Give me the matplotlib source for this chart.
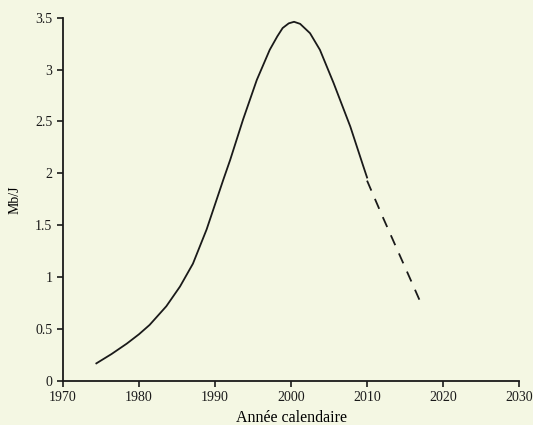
import matplotlib
matplotlib.use("Agg")
import matplotlib.pyplot as plt

# solid part (observed) and dashed part (forecast)
years_obs = [1974.4, 1976.4, 1978.4, 1980, 1981.4, 1983.6, 1985.4, 1987.1, 1988.9,
             1990, 1991.1, 1992, 1993.7, 1995.5, 1997.2, 1998.2, 1998.9, 1999.7,
             2000.4, 2001.2, 2002.5, 2003.8, 2005.6, 2007.8, 2009.5, 2010]
mbj_obs = [0.17, 0.26, 0.36, 0.45, 0.54, 0.72, 0.91, 1.13, 1.46,
           1.70, 1.94, 2.13, 2.52, 2.90, 3.19, 3.32, 3.40, 3.445,
           3.46, 3.44, 3.35, 3.19, 2.87, 2.45, 2.07, 1.96]
years_proj = [2010, 2012, 2014, 2016, 2016.9]
mbj_proj = [1.93, 1.59, 1.26, 0.93, 0.78]

bg = '#f4f7e3'
plt.rcParams['font.family'] = ['Liberation Serif', 'DejaVu Serif']

fig = plt.figure(figsize=(5.33, 4.25), dpi=100, facecolor=bg)
ax = fig.add_axes([0.118, 0.1035, 0.856, 0.855])
ax.set_facecolor(bg)

ax.plot(years_obs, mbj_obs, color='#1a1a1a', lw=1.3, solid_joinstyle='round')
ax.plot(years_proj, mbj_proj, color='#1a1a1a', lw=1.3, dashes=(6, 5))

ax.set_xlim(1970, 2030)
ax.set_ylim(0, 3.5)
ax.set_xticks(range(1970, 2031, 10))
ax.set_yticks([0, 0.5, 1, 1.5, 2, 2.5, 3, 3.5])
ax.set_yticklabels(['0', '0.5', '1', '1.5', '2', '2.5', '3', '3.5'])
for s in ['top', 'right']:
    ax.spines[s].set_visible(False)
for s in ['left', 'bottom']:
    ax.spines[s].set_linewidth(1.3)
    ax.spines[s].set_color('#1a1a1a')
ax.tick_params(direction='out', length=4, width=1.2, labelsize=10, colors='#1a1a1a')
ax.set_xlabel('Année calendaire', fontsize=11.5, labelpad=4)
ax.set_ylabel('Mb/J', fontsize=10, labelpad=10)

fig.savefig('out.png', dpi=100, facecolor=bg)
